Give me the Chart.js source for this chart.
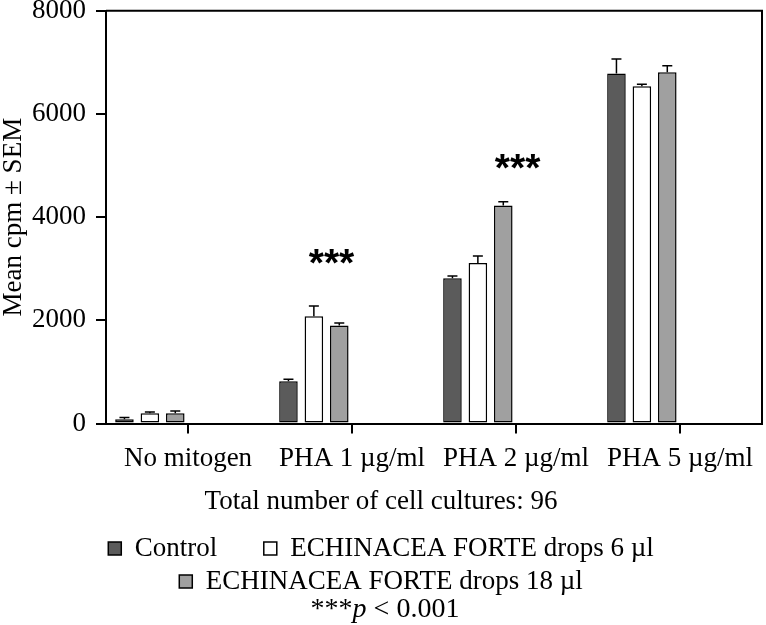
<!DOCTYPE html>
<html>
<head>
<meta charset="utf-8">
<script src="https://cdn.jsdelivr.net/npm/chart.js@4.4.1/dist/chart.umd.min.js"></script>
<style>
  html, body { margin: 0; padding: 0; background: #fff; }
  #wrap { width: 766px; height: 625px; }
</style>
</head>
<body>
<div id="wrap"><canvas id="cpmChart"></canvas></div>
<script>
// values (mean cpm and SEM per group)
const categories = ['No mitogen', 'PHA 1 µg/ml', 'PHA 2 µg/ml', 'PHA 5 µg/ml'];
const controlMean = [83, 821, 2815, 6781];
const controlSem = [33, 40, 45, 285];
const drops6Mean = [199, 2078, 3113, 6535];
const drops6Sem = [26, 200, 136, 39];
const drops18Mean = [199, 1903, 4227, 6806];
const drops18Sem = [45, 45, 70, 129];
const yTicks = [0, 2000, 4000, 6000, 8000];

// *** marks: which category, at what cpm, shifted a bit sideways (in category units)
const starCats = [1, 2];
const starValues = [3220, 5060];
const starShift = [-0.125, 0.01];

const serif = '"Liberation Serif", "Times New Roman", serif';
const empty = categories.map(() => null);

//error bars, upward only, with a small cap
const errorBars = {
    id: 'errorBars',
    afterDatasetsDraw(chart) {
        const ctx = chart.ctx;
        const yScale = chart.scales.y;
        const sems = [controlSem, drops6Sem, drops18Sem];
        ctx.save();
        ctx.strokeStyle = '#000';
        ctx.lineWidth = 1.5;
        sems.forEach((sem, d) => {
            const values = chart.data.datasets[d].data;
            chart.getDatasetMeta(d).data.forEach((bar, i) => {
                const top = yScale.getPixelForValue(values[i] + sem[i]);
                ctx.beginPath();
                ctx.moveTo(bar.x, bar.y);
                ctx.lineTo(bar.x, top);
                ctx.moveTo(bar.x - 5, top);
                ctx.lineTo(bar.x + 5, top);
                ctx.stroke();
            });
        });
        ctx.restore();
    }
};

//top and right edges of the plot box, stars and the p-value note
const extras = {
    id: 'extras',
    afterDraw(chart) {
        const ctx = chart.ctx;
        const area = chart.chartArea;
        const xScale = chart.scales.x;
        const yScale = chart.scales.y;
        ctx.save();
        ctx.strokeStyle = '#000';
        ctx.lineWidth = 2;
        ctx.beginPath();
        ctx.moveTo(area.left, area.top);
        ctx.lineTo(area.right, area.top);
        ctx.lineTo(area.right, area.bottom);
        ctx.stroke();

        ctx.fillStyle = '#000';
        ctx.textAlign = 'center';
        ctx.textBaseline = 'middle';
        ctx.font = 'bold 39px "Liberation Sans", Arial, sans-serif';
        starCats.forEach((c, i) => {
            const x = xScale.getPixelForValue(c + starShift[i]);
            const y = yScale.getPixelForValue(starValues[i]);
            ctx.fillText('***', x, y + 8);
        });

        // footnote: ***p < 0.001 with italic p
        ctx.textAlign = 'left';
        ctx.textBaseline = 'alphabetic';
        const parts = [['***', 'normal'], ['p', 'italic'], [' < 0.001', 'normal']];
        let total = 0;
        parts.forEach(p => {
            ctx.font = p[1] + ' 28px ' + serif;
            total += ctx.measureText(p[0]).width;
        });
        let x = chart.width / 2 - total / 2 + 2;
        parts.forEach(p => {
            ctx.font = p[1] + ' 28px ' + serif;
            ctx.fillText(p[0], x, chart.height - 8);
            x += ctx.measureText(p[0]).width;
        });
        ctx.restore();
    }
};

const ctx = document.getElementById('cpmChart').getContext('2d');

const chart = new Chart(ctx, {
    type: 'bar',
    data: {
        labels: categories,
        datasets: [
            { label: 'Control', data: controlMean, backgroundColor: '#5b5b5b' },
            { label: 'ECHINACEA FORTE drops 6 µl', data: drops6Mean, backgroundColor: '#ffffff' },
            { label: 'ECHINACEA FORTE drops 18 µl', data: drops18Mean, backgroundColor: '#a0a0a0' },
            // empty slots so the bars sit left of the tick like in the figure
            { label: 'pad1', data: empty },
            { label: 'pad2', data: empty },
            { label: 'pad3', data: empty }
        ]
    },
    options: {
        responsive: true,
        maintainAspectRatio: false,
        animation: false,
        events: [],
        layout: { padding: { left: 0, right: 4, top: 0, bottom: 20 } },
        datasets: {
            bar: {
                categoryPercentage: 0.93,
                barPercentage: 0.73,
                borderColor: '#000',
                borderWidth: 1.5,
                borderSkipped: false
            }
        },
        plugins: {
            tooltip: { enabled: false },
            //sits between the axis and the legend, centred on the whole figure
            subtitle: {
                display: true,
                position: 'bottom',
                weight: 500,
                text: 'Total number of cell cultures: 96',
                color: '#000',
                font: { family: serif, size: 27, weight: 'normal', lineHeight: 1 },
                padding: { top: 4, bottom: 14 }
            },
            legend: {
                position: 'bottom',
                labels: {
                    color: '#000',
                    font: { family: serif, size: 27 },
                    boxWidth: 13,
                    boxHeight: 13,
                    padding: 6,
                    generateLabels(chart) {
                        const items = Chart.defaults.plugins.legend.labels.generateLabels(chart)
                            .filter(item => item.datasetIndex < 3);
                        // wider gap after Control, as in the figure
                        items[0].text = items[0].text + '      ';
                        return items;
                    }
                }
            }
        },
        scales: {
            x: {
                grid: {
                    offset: false,
                    drawOnChartArea: false,
                    color: '#000',
                    lineWidth: 2,
                    tickLength: 10
                },
                border: { color: '#000', width: 2 },
                ticks: {
                    color: '#000',
                    font: { family: serif, size: 27 },
                    padding: 9,
                    maxRotation: 0
                }
            },
            y: {
                min: 0,
                max: 8000,
                afterBuildTicks: axis => { axis.ticks = yTicks.map(v => ({ value: v })); },
                grid: {
                    drawOnChartArea: false,
                    color: '#000',
                    lineWidth: 2,
                    tickLength: 10
                },
                border: { color: '#000', width: 2 },
                ticks: {
                    color: '#000',
                    font: { family: serif, size: 27, lineHeight: 0.05 },
                    padding: 10,
                    callback: value => String(value)
                },
                title: {
                    display: true,
                    text: 'Mean cpm ± SEM',
                    color: '#000',
                    font: { family: serif, size: 27, lineHeight: 1 },
                    padding: { top: 0, bottom: -5 }
                }
            }
        }
    },
    plugins: [errorBars, extras]
});
</script>
</body>
</html>
